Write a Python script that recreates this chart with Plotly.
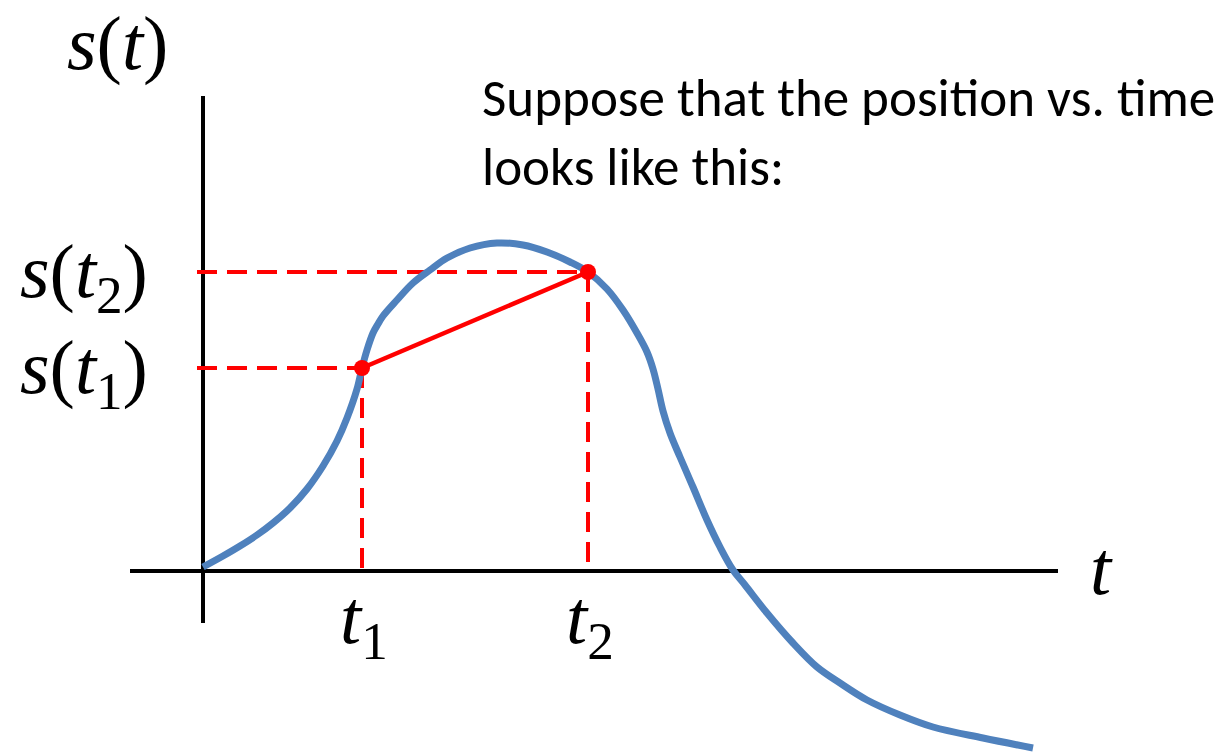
import plotly.graph_objects as go

# Position curve s(t) (t and s in diagram units)
curve_t = [0.00, 0.20, 0.37, 0.54, 0.70, 0.87, 1.04, 1.20, 1.34, 1.44, 1.54, 1.59,
           1.64, 1.70, 1.75, 1.80, 1.94, 2.10, 2.27, 2.44, 2.67, 2.94, 3.20, 3.44, 3.67,
           3.85, 4.04, 4.20, 4.34, 4.44, 4.50, 4.55, 4.60, 4.67, 4.77, 4.90, 5.04,
           5.17, 5.30, 5.42, 5.64, 5.90, 6.14, 6.37, 6.64, 6.97, 7.30, 7.80, 8.30]
curve_s = [0.04, 0.15, 0.25, 0.36, 0.48, 0.63, 0.82, 1.05, 1.30, 1.53, 1.82, 2.03,
           2.21, 2.38, 2.47, 2.55, 2.71, 2.88, 3.01, 3.13, 3.23, 3.28, 3.26, 3.19, 3.09,
           2.99, 2.82, 2.61, 2.38, 2.19, 2.02, 1.82, 1.60, 1.38, 1.14, 0.84, 0.51,
           0.24, 0.01, -0.14, -0.42, -0.72, -0.96, -1.12, -1.29, -1.44, -1.56, -1.67, -1.77]

# The two sampled instants and their positions
t_points = [1.59, 3.85]
s_points = [2.03, 2.99]
t_names = ["<i>t</i><sub>1</sub>", "<i>t</i><sub>2</sub>"]
s_names = ["<i>s</i>(<i>t</i><sub>1</sub>)", "<i>s</i>(<i>t</i><sub>2</sub>)"]

# Extent of the drawn axes
t_axis_extent = [-0.73, 8.55]
s_axis_extent = [-0.52, 4.75]

caption = "Suppose that the position vs. time<br>looks like this:"

BLUE = "#4F81BD"
RED = "#FF0000"
MATH_FONT = "Liberation Serif"
MATH_SIZE = 76

fig = go.Figure()

# Coordinate axes
fig.add_trace(go.Scatter(x=t_axis_extent, y=[0, 0], mode="lines",
                         line=dict(color="black", width=4), hoverinfo="skip"))
fig.add_trace(go.Scatter(x=[0, 0], y=s_axis_extent, mode="lines",
                         line=dict(color="black", width=4), hoverinfo="skip"))

# Dashed guides from each point to the axes
for tp, sp in zip(t_points, s_points):
    fig.add_trace(go.Scatter(x=[-0.06, tp], y=[sp, sp], mode="lines",
                             line=dict(color=RED, width=4, dash="20px,10px"),
                             hoverinfo="skip"))
    fig.add_trace(go.Scatter(x=[tp, tp], y=[sp, 0], mode="lines",
                             line=dict(color=RED, width=4, dash="20px,10px"),
                             hoverinfo="skip"))

# Position curve
fig.add_trace(go.Scatter(x=curve_t, y=curve_s, mode="lines",
                         line=dict(color=BLUE, width=7, shape="spline", smoothing=1.0)))

# Secant between the two points
fig.add_trace(go.Scatter(x=t_points, y=s_points, mode="lines+markers",
                         line=dict(color=RED, width=4.5),
                         marker=dict(color=RED, size=16)))

annotations = []
# Axis names
annotations.append(dict(x=-0.86, y=5.28, text="<i>s</i>(<i>t</i>)", showarrow=False,
                        font=dict(family=MATH_FONT, size=MATH_SIZE, color="black")))
annotations.append(dict(x=8.98, y=0.03, text="<i>t</i>", showarrow=False,
                        font=dict(family=MATH_FONT, size=MATH_SIZE, color="black")))
# Point labels on each axis
for tp, sp, tn, sn in zip(t_points, s_points, t_names, s_names):
    annotations.append(dict(x=tp + 0.02, y=-0.52, text=tn, showarrow=False,
                            font=dict(family=MATH_FONT, size=MATH_SIZE, color="black")))
    annotations.append(dict(x=-1.19, y=sp - 0.05, text=sn, showarrow=False,
                            font=dict(family=MATH_FONT, size=MATH_SIZE, color="black")))
# Caption
annotations.append(dict(x=2.77, y=5.07, xanchor="left", yanchor="top", align="left",
                        text=caption, showarrow=False,
                        font=dict(family="Calibri, Carlito, Lato", size=53, color="black")))

fig.update_layout(
    width=1221, height=754,
    margin=dict(l=0, r=0, t=0, b=0),
    paper_bgcolor="white", plot_bgcolor="white",
    showlegend=False,
    annotations=annotations,
    xaxis=dict(range=[-2.03, 10.18], visible=False, fixedrange=True),
    yaxis=dict(range=[-1.83, 5.71], visible=False, fixedrange=True),
)

fig.write_html("out.html", config={"displayModeBar": False})
